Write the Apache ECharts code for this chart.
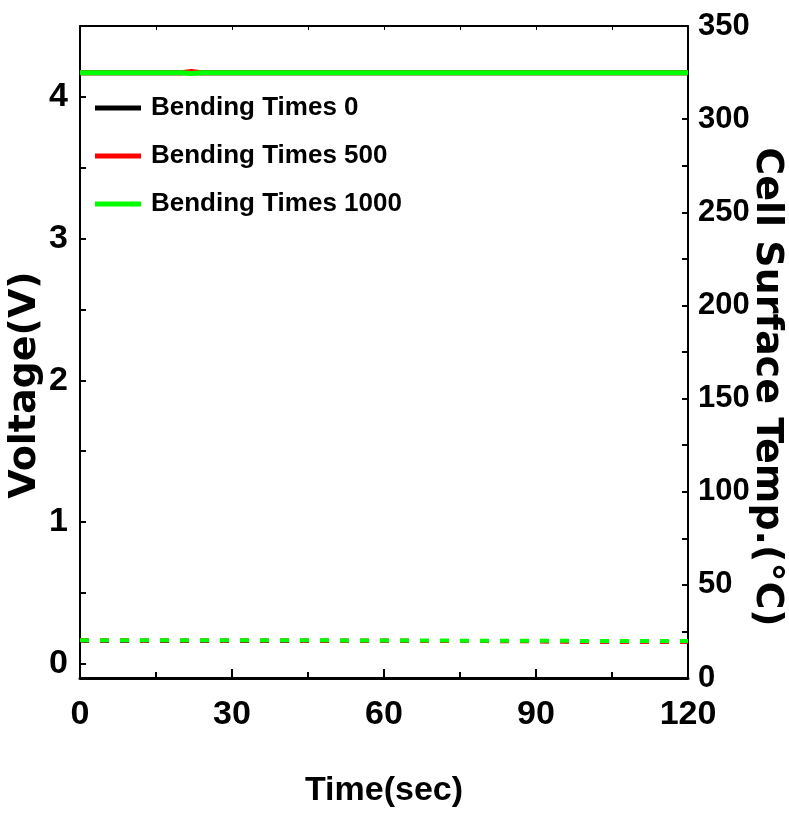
<!DOCTYPE html>
<html>
<head>
<meta charset="utf-8">
<script src="https://cdn.jsdelivr.net/npm/echarts@6/dist/echarts.min.js"></script>
<style>
html,body{margin:0;padding:0;background:#fff;}
#chart{width:789px;height:814px;}
</style>
</head>
<body>
<div id="chart"></div>
<script>
// ---- data ----
const timeSec = [0, 10, 20, 22, 24, 30, 40, 50, 60, 70, 80, 90, 100, 110, 120];
const seriesNames = ['Bending Times 0', 'Bending Times 500', 'Bending Times 1000'];
const seriesColors = ['#000000', '#ff0000', '#00ff00'];
const voltage0    = [4.17, 4.17, 4.17, 4.17, 4.17, 4.17, 4.17, 4.17, 4.17, 4.17, 4.17, 4.17, 4.17, 4.17, 4.17];
const voltage500  = [4.17, 4.17, 4.17, 4.18, 4.17, 4.17, 4.17, 4.17, 4.17, 4.17, 4.17, 4.17, 4.17, 4.17, 4.17];
const voltage1000 = [4.17, 4.17, 4.17, 4.165, 4.17, 4.17, 4.17, 4.17, 4.17, 4.17, 4.17, 4.17, 4.17, 4.17, 4.17];
const temp0    = [20.0, 20.0, 20.0, 20.0, 20.0, 20.0, 20.0, 20.0, 20.0, 19.9, 19.9, 19.8, 19.6, 19.6, 19.6];
const temp500  = [20.2, 20.2, 20.1, 20.1, 20.1, 20.1, 20.1, 20.0, 20.0, 19.9, 19.8, 19.7, 19.4, 19.4, 19.4];
const temp1000 = [20.3, 20.3, 20.3, 20.3, 20.3, 20.3, 20.2, 20.2, 20.1, 20.1, 20.0, 20.0, 19.9, 19.9, 19.9];
const xTicks = [0, 30, 60, 90, 120];
const voltTicks = [0, 1, 2, 3, 4];
const voltMinorTicks = [0, 0.5, 1, 1.5, 2, 2.5, 3, 3.5, 4];
const tempTicks = [0, 50, 100, 150, 200, 250, 300, 350];

const voltages = [voltage0, voltage500, voltage1000];
const temps = [temp0, temp500, temp1000];
const pair = (xs, ys) => xs.map((x, i) => [x, ys[i]]);

const sans = '"Liberation Sans", Arial, sans-serif';
const wide = '"DejaVu Sans", "Liberation Sans", Arial, sans-serif';

const series = [];
seriesNames.forEach((n, i) => {
  series.push({
    name: n, type: 'line', xAxisIndex: 0, yAxisIndex: 0,
    data: pair(timeSec, voltages[i]), showSymbol: false, symbol: 'none',
    lineStyle: { color: seriesColors[i], width: 5 }, itemStyle: { color: seriesColors[i] },
    z: 3 + i, silent: true
  });
});
seriesNames.forEach((n, i) => {
  series.push({
    name: n + ' temp', type: 'line', xAxisIndex: 0, yAxisIndex: 1,
    data: pair(timeSec, temps[i]), showSymbol: false, symbol: 'none',
    lineStyle: { color: seriesColors[i], width: 4, type: [9, 11] }, itemStyle: { color: seriesColors[i] },
    z: 3 + i, silent: true
  });
});

const chart = echarts.init(document.getElementById('chart'), null, { renderer: 'canvas' });
chart.setOption({
  animation: false,
  backgroundColor: '#ffffff',
  grid: { left: 80, right: 101, top: 26, bottom: 136, containLabel: false, outerBoundsMode: 'none' },
  legend: {
    data: seriesNames,
    orient: 'vertical', left: 90, top: 90,
    icon: 'rect', itemWidth: 46, itemHeight: 5, itemGap: 22,
    textStyle: { fontFamily: sans, fontWeight: 'bold', fontSize: 26, color: '#000', padding: [0, 0, 0, 5] }
  },
  xAxis: [
    {
      type: 'value', position: 'bottom', min: 0, max: 120, interval: 30,
      name: 'Time(sec)', nameLocation: 'middle', nameGap: 96,
      nameTextStyle: { fontFamily: sans, fontWeight: 'bold', fontSize: 34, color: '#000' },
      axisLine: { show: true, onZero: false, lineStyle: { color: '#000', width: 3 } },
      axisTick: { show: true, inside: true, length: 9, lineStyle: { color: '#000', width: 2 } },
      minorTick: { show: true, splitNumber: 2, length: 6, lineStyle: { color: '#000', width: 2 } },
      axisLabel: { margin: 20, fontFamily: sans, fontWeight: 'bold', fontSize: 34, color: '#000', showMaxLabel: true, showMinLabel: true },
      splitLine: { show: false }
    },
    {
      type: 'value', position: 'top', min: 0, max: 120, interval: 15,
      axisLine: { show: true, onZero: false, lineStyle: { color: '#000', width: 2 } },
      axisTick: { show: true, inside: true, length: 4, lineStyle: { color: '#000', width: 1 } },
      axisLabel: { show: false }, splitLine: { show: false }
    }
  ],
  yAxis: [
    {
      type: 'value', position: 'left', min: -0.1, max: 4.5,
      name: 'Voltage(V)', nameLocation: 'middle', nameRotate: 90, nameGap: 36, nameMoveOverlap: false,
      nameTextStyle: { fontFamily: wide, fontWeight: 'bold', fontSize: 38, color: '#000', padding: [0, 66, 0, 0] },
      axisLine: { show: true, onZero: false, lineStyle: { color: '#000', width: 2 } },
      axisTick: { show: true, inside: true, length: 6, customValues: voltMinorTicks, lineStyle: { color: '#000', width: 2 } },
      axisLabel: { margin: 12, customValues: voltTicks, fontFamily: sans, fontWeight: 'bold', fontSize: 34, color: '#000' },
      splitLine: { show: false }
    },
    {
      type: 'value', position: 'right', min: 0, max: 350, interval: 50,
      name: 'Cell Surface Temp.(°C)', nameLocation: 'middle', nameRotate: -90, nameGap: 60, nameMoveOverlap: false,
      nameTextStyle: { fontFamily: wide, fontWeight: 'bold', fontSize: 38, color: '#000', padding: [0, 0, 0, 70] },
      axisLine: { show: true, onZero: false, lineStyle: { color: '#000', width: 2 } },
      axisTick: { show: true, inside: true, length: 6, lineStyle: { color: '#000', width: 2 } },
      minorTick: { show: true, splitNumber: 2, length: 6, lineStyle: { color: '#000', width: 2 } },
      axisLabel: { margin: 10, fontFamily: sans, fontWeight: 'bold', fontSize: 31, color: '#000' },
      splitLine: { show: false }
    }
  ],
  series: series
});
</script>
</body>
</html>
